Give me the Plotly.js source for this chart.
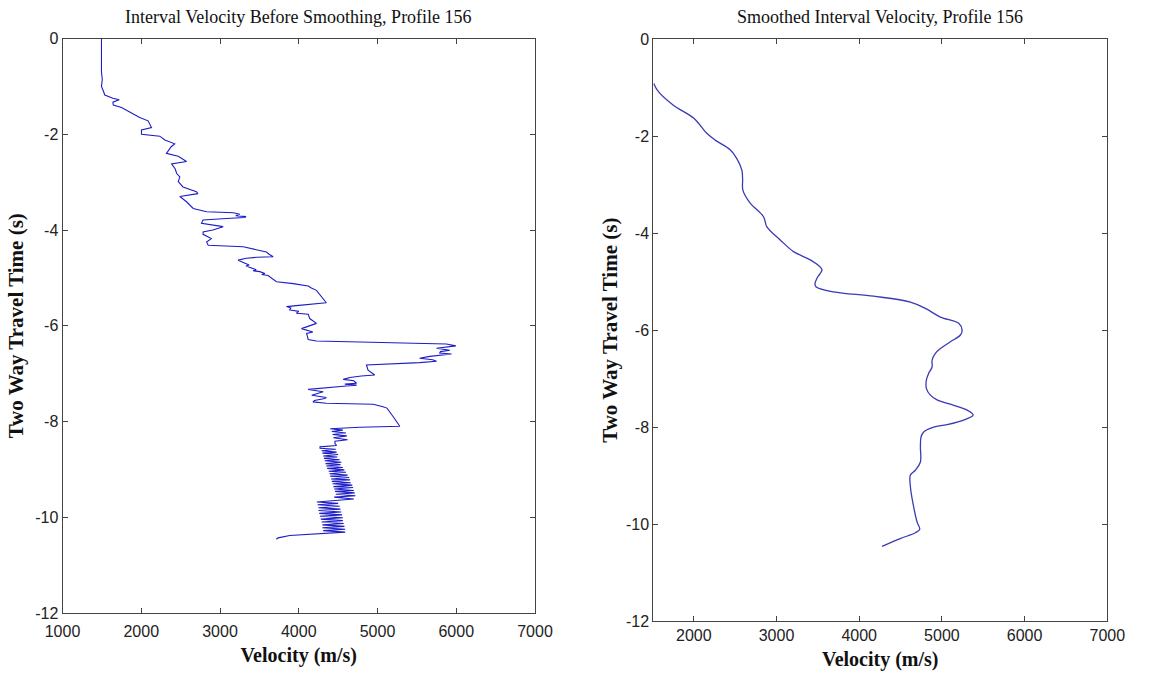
<!DOCTYPE html>
<html><head><meta charset="utf-8">
<script src="https://cdn.plot.ly/plotly-3.0.1.min.js"></script>
<style>html,body{margin:0;padding:0;background:#fff}</style>
</head><body><div id="chart" style="width:1159px;height:679px"></div>
<script>
// Raw interval velocity (left panel): two way travel time (s) and velocity (m/s)
const rawTime = [0.00,-0.30,-0.50,-0.70,-0.85,-1.00,-1.08,-1.18,-1.25,-1.28,-1.33,-1.39,-1.44,-1.56,-1.65,-1.72,-1.80,-1.86,-1.91,-2.00,
  -2.04,-2.12,-2.20,-2.26,-2.40,-2.46,-2.57,-2.62,-2.72,-2.82,-2.89,-2.99,-3.10,-3.20,-3.24,-3.27,-3.30,-3.41,-3.55,-3.62,
  -3.64,-3.67,-3.70,-3.72,-3.74,-3.76,-3.79,-3.86,-3.93,-4.00,-4.04,-4.09,-4.18,-4.25,-4.32,-4.35,-4.42,-4.46,-4.50,-4.56,
  -4.57,-4.59,-4.63,-4.70,-4.73,-4.75,-4.80,-4.83,-4.85,-4.87,-4.91,-4.93,-4.95,-5.05,-5.08,-5.12,-5.17,-5.21,-5.26,-5.52,
  -5.54,-5.58,-5.60,-5.63,-5.67,-5.70,-5.74,-5.76,-5.85,-5.95,-6.06,-6.13,-6.16,-6.29,-6.32,-6.34,-6.37,-6.38,-6.42,-6.45,
  -6.47,-6.51,-6.54,-6.57,-6.59,-6.64,-6.68,-6.71,-6.74,-6.77,-6.79,-6.82,-6.93,-7.03,-7.05,-7.08,-7.12,-7.15,-7.17,-7.20,
  -7.22,-7.24,-7.26,-7.30,-7.33,-7.38,-7.45,-7.50,-7.52,-7.56,-7.59,-7.62,-7.64,-7.69,-7.72,-7.90,-8.10,-8.12,-8.15,-8.18,
  -8.21,-8.24,-8.27,-8.30,-8.34,-8.38,-8.41,-8.46,-8.50,-8.53,
  -8.56,-8.58,-8.61,-8.64,-8.66,-8.69,-8.72,-8.74,-8.77,-8.80,-8.82,-8.85,-8.88,-8.90,-8.93,-8.96,-8.98,-9.01,-9.04,-9.06,
  -9.09,-9.12,-9.14,-9.17,-9.20,-9.22,-9.25,-9.28,-9.30,-9.33,-9.36,-9.38,-9.41,-9.44,-9.46,-9.49,-9.52,-9.55,-9.58,-9.62,
  -9.65,-9.68,-9.71,-9.74,-9.77,-9.80,-9.83,-9.86,-9.89,-9.92,-9.95,-9.98,-10.01,-10.04,-10.07,-10.10,-10.13,-10.16,-10.19,-10.22,
  -10.25,-10.28,-10.31,-10.34,-10.36,-10.38,-10.43,-10.46];
const rawVelocity = [1495,1495,1500,1495,1505,1495,1515,1537,1640,1720,1640,1645,1750,1875,1980,2087,2110,2130,2003,2003,
  2235,2300,2425,2380,2320,2470,2575,2385,2430,2450,2490,2470,2530,2700,2720,2575,2490,2575,2660,2830,
  3170,3250,3200,3330,3315,3080,2785,2765,3040,2910,2785,2785,2890,2830,2850,3295,3505,3590,3620,3675,
  3465,3335,3230,3315,3370,3330,3400,3460,3420,3505,3570,3530,3610,3695,3717,3930,4120,4160,4225,4350,
  4180,3970,3845,3900,3885,4000,3970,4120,4140,4225,4035,4180,4100,4120,4225,4945,5535,5875,5995,5790,
  5750,5918,5800,5790,5940,5665,5535,5700,5750,5535,5200,4860,4880,4965,4795,4650,4565,4700,4710,4735,
  4585,4735,4605,4350,4120,4310,4165,4350,4330,4200,4180,4350,4945,5070,5120,5200,5283,4775,4400,4560,
  4420,4600,4430,4610,4440,4620,4460,4460,4480,4270,
  4270,4470,4290,4480,4300,4500,4310,4490,4320,4520,4330,4540,4340,4530,4350,4560,4360,4580,4380,4600,
  4390,4620,4400,4640,4410,4650,4420,4660,4430,4680,4440,4690,4450,4700,4460,4710,4470,4720,4450,4700,
  4480,4230,4500,4240,4520,4250,4530,4250,4540,4260,4550,4270,4560,4280,4560,4290,4570,4300,4580,4300,
  4590,4310,4590,4310,4140,3885,3738,3715];

// Smoothed interval velocity (right panel)
const smoothTime = [-0.91,-1.08,-1.36,-1.63,-1.94,-2.08,-2.28,-2.46,-2.70,-2.90,-3.11,-3.38,-3.66,-3.87,-4.14,-4.38,-4.55,-4.70,-4.76,-4.85,
  -4.93,-5.05,-5.11,-5.21,-5.30,-5.42,-5.55,-5.73,-5.86,-6.00,-6.10,-6.24,-6.38,-6.48,-6.62,-6.76,-6.89,-7.03,-7.20,-7.34,
  -7.44,-7.55,-7.65,-7.75,-7.84,-7.95,-8.00,-8.10,-8.20,-8.41,-8.72,-8.89,-8.99,-9.23,-9.58,-9.96,-10.11,-10.18,-10.30,-10.46];
const smoothVelocity = [1515,1572,1753,2000,2157,2258,2439,2520,2581,2590,2593,2682,2843,2884,3045,3206,3408,3530,3550,3520,
  3489,3465,3480,3690,4174,4619,4800,4982,5204,5244,5224,5103,4982,4921,4881,4881,4840,4812,4812,4861,
  4942,5143,5305,5378,5285,5063,4900,4780,4748,4740,4740,4679,4619,4619,4651,4700,4732,4679,4497,4276];

// Axis ticks and labels
const xTickLeft = [1000,2000,3000,4000,5000,6000,7000];
const xTickRight = [2000,3000,4000,5000,6000,7000];
const yTickVals = [0,-2,-4,-6,-8,-10,-12];
const yTickText = ['0','-2','-4','-6','-8','-10','-12'];
const titleLeft = 'Interval Velocity Before Smoothing, Profile 156';
const titleRight = 'Smoothed Interval Velocity, Profile 156';
const xTitle = 'Velocity (m/s)';
const yTitle = 'Two Way Travel Time (s)';

const W = 1159, H = 679;
const tickFont = {family:'Liberation Sans, Arial, sans-serif', size:16, color:'#222'};
const xTitleFont = {family:'Liberation Serif, Times New Roman, serif', size:20, color:'#111', weight:700};
const yTitleFont = {family:'Liberation Serif, Times New Roman, serif', size:21, color:'#111', weight:700};
const mainTitleFont = {family:'Liberation Serif, Times New Roman, serif', size:18, color:'#111'};
const common = {ticks:'inside', ticklen:5, tickcolor:'#444', mirror:'allticks', showline:true,
  linecolor:'#444', linewidth:1, showgrid:false, zeroline:false, tickfont:tickFont, fixedrange:true};

const traces = [
  {x: rawVelocity, y: rawTime, xaxis:'x', yaxis:'y', mode:'lines', line:{color:'#1c1cc8', width:1.1}, hoverinfo:'skip'},
  {x: smoothVelocity, y: smoothTime, xaxis:'x2', yaxis:'y2', mode:'lines', line:{color:'#3a3ab4', width:1.3, shape:'spline', smoothing:1}, hoverinfo:'skip'}
];

const layout = {
  width: W, height: H, margin:{l:0,r:0,t:0,b:0}, showlegend:false,
  paper_bgcolor:'#fff', plot_bgcolor:'#fff',
  xaxis: Object.assign({}, common, {domain:[62.5/W, 535/W], range:[1000,7000], tickvals:xTickLeft, anchor:'y',
    ticklabelstandoff:4, title:{text:xTitle, font:xTitleFont, standoff:8}}),
  yaxis: Object.assign({}, common, {domain:[1-613/H, 1-38.5/H], range:[-12,0], tickvals:yTickVals, ticktext:yTickText, anchor:'x',
    title:{text:yTitle, font:yTitleFont, standoff:5}}),
  xaxis2: Object.assign({}, common, {domain:[653.3/W, 1107.3/W], range:[1510,7000], tickvals:xTickRight, anchor:'y2',
    title:{text:xTitle, font:xTitleFont, standoff:8}}),
  yaxis2: Object.assign({}, common, {domain:[1-621/H, 1-39.3/H], range:[-12,0], tickvals:yTickVals, ticktext:yTickText, anchor:'x2',
    title:{text:yTitle, font:yTitleFont, standoff:2}}),
  annotations: [
    {text:titleLeft, xref:'paper', yref:'paper', x:(62.5+535)/2/W, y:1-17/H, xanchor:'center', yanchor:'middle', showarrow:false,
     font:mainTitleFont},
    {text:titleRight, xref:'paper', yref:'paper', x:(653.3+1107.3)/2/W, y:1-17/H, xanchor:'center', yanchor:'middle', showarrow:false,
     font:mainTitleFont}
  ]
};

Plotly.newPlot('chart', traces, layout, {displayModeBar:false, staticPlot:true});
</script></body></html>
